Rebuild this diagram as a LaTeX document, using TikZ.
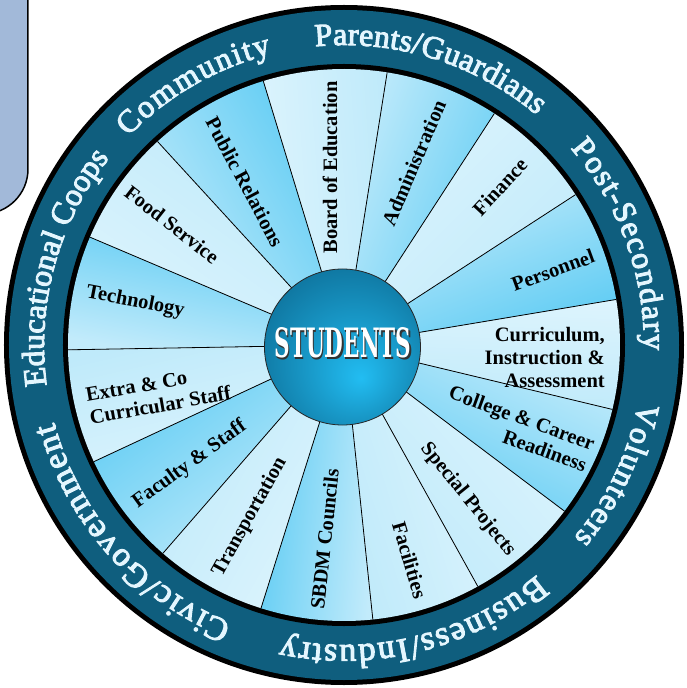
\documentclass[tikz,border=0pt]{standalone}
\usepackage{fontspec}
\setmainfont{Liberation Serif}
\newfontfamily\slabfont{DejaVu Serif}
\newfontfamily\ringfam[FakeBold=3]{Liberation Serif}
\usepackage{graphicx}
\usetikzlibrary{decorations.text}
\definecolor{ringcol}{HTML}{0F5E7E}
\definecolor{ringtext}{HTML}{E4F6FE}
\definecolor{paleA}{HTML}{DDF4FD}
\definecolor{paleB}{HTML}{BFEAFA}
\definecolor{darkA}{HTML}{C2EBFB}
\definecolor{darkB}{HTML}{5CCBF3}
\definecolor{panel}{HTML}{A2B9D9}
\definecolor{ballA}{HTML}{22BDF2}
\definecolor{ballB}{HTML}{0C6A92}
\definecolor{ballC}{HTML}{0A4866}
\pgfdeclareradialshading{studball}{\pgfpoint{6bp}{-10bp}}{color(0bp)=(ballA); color(14bp)=(ballA!60!ballB); color(36bp)=(ballB); color(50bp)=(ballC)}
\newcommand\ringfont{\ringfam\fontsize{32}{32}\selectfont}
\newcommand\ringbig{\ringfam\fontsize{34}{34}\selectfont}
\begin{document}
\begin{tikzpicture}[x=1pt,y=1pt,
  lbl/.style={font=\bfseries\fontsize{20.5}{23}\selectfont, inner sep=0pt, text=black},
  ringtxt/.style={decorate, decoration={text along path, text color=ringtext, text align=center}},
  ringfit/.style={decorate, decoration={text along path, text color=ringtext, text align=fit to path}},
  divider/.style={line width=0.8pt, black}]
\useasboundingbox (-344,-343) rectangle (342,345);
\begin{scope}
  \clip (-344,-343) rectangle (342,345);
  \draw[fill=panel, line width=1.5pt, rounded corners=45pt] (-400,400) rectangle (-316,131);
\end{scope}
% ring
\fill[black] (0,0) circle[radius=340];
\fill[ringcol] (0,0) circle[radius=335];
\fill[black] (0,0) circle[radius=281];
% sectors
\foreach \a/\b/\ca/\cb in {346.5/369.5/paleA/paleB, 9.5/33/darkA/darkB, 33/57/paleA/paleB, 57/81/darkA/darkB, 81/107/paleA/paleB, 107/132.5/darkA/darkB, 132.5/157/paleA/paleB, 157/181/darkA/darkB, 181/205/paleA/paleB, 205/229/darkA/darkB, 229/252.5/paleA/paleB, 252.5/276/darkA/darkB, 276/299/paleA/paleB, 299/323/paleA/paleB, 323/346.5/darkA/darkB}
{
  \pgfmathsetmacro\m{(\a+\b)/2}
  \shade[top color=\ca, bottom color=\cb, shading angle=\m] (0,0) -- (\a:276) arc[start angle=\a, end angle=\b, radius=276] -- cycle;
}
\foreach \a in {9.5,33,57,81,107,132.5,157,181,205,229,252.5,276,299,323,346.5}
  \draw[divider] (0,0) -- (\a:276);
% center
\node[circle, minimum size=156pt, inner sep=0pt, shading=studball, draw=black!85, line width=0.8pt] (ball) at (-1.5,-2) {};
\node[text=black!80, inner sep=0pt] (stshadow) at (0.2,0.6) {\resizebox{137pt}{30pt}{\slabfont\bfseries STUDENTS}};
\node[text=white, inner sep=0pt] (students) at (-1,2) {\resizebox{137pt}{30pt}{\slabfont\bfseries STUDENTS}};
% sector labels
\node[lbl, rotate=90] (board) at (94.5:178) {Board of Education};
\node[lbl, rotate=67] (admin) at (69:195) {Administration};
\node[lbl, rotate=47] (finance) at (45.4:222) {Finance};
\node[lbl, rotate=20] (personnel) at (19.7:222) {Personnel};
\node[lbl, align=right, anchor=east] (curric) at (261,-12) {Curriculum,\\Instruction \&\\Assessment};
\node[lbl, align=right, rotate=-20] (college) at (-25.6:193) {College \& Career\\Readiness};
\node[lbl, rotate=-51] (special) at (-51.3:198) {Special Projects};
\node[lbl, rotate=-73.6] (facilities) at (-73:225) {Facilities};
\node[lbl, rotate=84] (sbdm) at (-95.7:195) {SBDM Councils};
\node[lbl, rotate=61] (transport) at (241.3:196) {Transportation};
\node[lbl, rotate=36] (faculty) at (217.7:195) {Faculty \& Staff};
\node[lbl, align=left, rotate=10] (extra) at (194.8:192) {Extra \& Co\\Curricular Staff};
\node[lbl, rotate=-11] (tech) at (168.4:213) {Technology};
\node[lbl, rotate=-38] (food) at (145:210) {Food Service};
\node[lbl, rotate=-62] (pr) at (121.3:191) {Public Relations};
% ring texts
\path[ringfit, decoration={text={|\ringfont|Community}}] (136:300) arc[start angle=136, end angle=104, radius=300];
\path[ringfit, decoration={text={|\ringfont|Parents/Guardians}}] (95.5:300) arc[start angle=95.5, end angle=50, radius=300];
\path[ringfit, decoration={text={|\ringfont|Post-Secondary}}] (41:300) arc[start angle=41, end angle=-1, radius=300];
\path[ringfit, decoration={text={|\ringfont|Volunteers}}] (-11:300) arc[start angle=-11, end angle=-40, radius=300];
\path[ringfit, decoration={text={|\ringbig|Business/Industry}}] (-50:300) arc[start angle=-50, end angle=-102, radius=300];
\path[ringfit, decoration={text={|\ringbig|Civic/Government}}] (248:300) arc[start angle=248, end angle=195, radius=300];
\path[ringtxt, decoration={text={|\ringfont|Educational Coops}}] (204.6:300) arc[start angle=204.6, end angle=124.6, radius=300];
\end{tikzpicture}
\end{document}
